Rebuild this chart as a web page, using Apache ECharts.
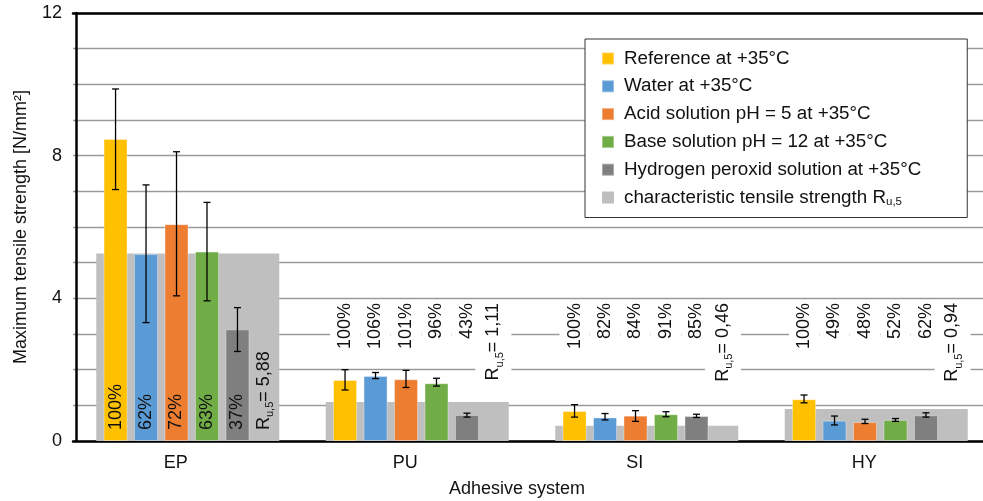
<!DOCTYPE html>
<html>
<head>
<meta charset="utf-8">
<script src="https://cdn.jsdelivr.net/npm/echarts@6/dist/echarts.min.js"></script>
<style>
  html, body { margin: 0; padding: 0; background: #fff; }
  #chart { width: 983px; height: 501px; }
</style>
</head>
<body>
<div id="chart"></div>
<script>
// categories and series
const categories = ['EP', 'PU', 'SI', 'HY'];
const seriesNames = [
  'Reference at +35°C',
  'Water at +35°C',
  'Acid solution pH = 5 at +35°C',
  'Base solution pH = 12 at +35°C',
  'Hydrogen peroxid solution at +35°C'
];
const charName = 'characteristic tensile strength';
const seriesColors = ['#FFC000', '#5B9BD5', '#ED7D31', '#70AD47', '#7F7F7F'];
const charColor = '#BFBFBF';

// mean values [N/mm²]
const refValues = [8.47, 1.71, 0.84, 1.17];
const waterValues = [5.24, 1.82, 0.66, 0.57];
const acidValues = [6.08, 1.73, 0.71, 0.53];
const baseValues = [5.31, 1.62, 0.75, 0.59];
const peroxValues = [3.13, 0.73, 0.70, 0.72];
const charValues = [5.26, 1.09, 0.43, 0.90];

// error bar ends
const refLow = [7.05, 1.43, 0.67, 1.07];
const refHigh = [9.87, 2.00, 1.02, 1.29];
const waterLow = [3.32, 1.75, 0.59, 0.45];
const waterHigh = [7.18, 1.92, 0.77, 0.70];
const acidLow = [4.07, 1.50, 0.55, 0.49];
const acidHigh = [8.11, 1.98, 0.85, 0.61];
const baseLow = [3.93, 1.54, 0.68, 0.55];
const baseHigh = [6.69, 1.76, 0.82, 0.63];
const peroxLow = [2.51, 0.67, 0.66, 0.67];
const peroxHigh = [3.74, 0.78, 0.75, 0.79];

// percentage labels and R_u,5 labels
const refPct = [100, 100, 100, 100];
const waterPct = [62, 106, 82, 49];
const acidPct = [72, 101, 84, 48];
const basePct = [63, 96, 91, 52];
const peroxPct = [37, 43, 85, 62];
const rLabels = ['5,88', '1,11', '0,46', '0,94'];

const values = [refValues, waterValues, acidValues, baseValues, peroxValues];
const lows = [refLow, waterLow, acidLow, baseLow, peroxLow];
const highs = [refHigh, waterHigh, acidHigh, baseHigh, peroxHigh];
const pcts = [refPct, waterPct, acidPct, basePct, peroxPct];

// layout
const GRID_TOP = 13, GRID_BOTTOM = 60, GRID_LEFT = 73, GRID_WIDTH = 918;
const Y_MAX = 12;
const PX_PER_UNIT = (501 - GRID_TOP - GRID_BOTTOM) / Y_MAX;
const BAR_W = 24, BAR_GAP = 0.27, LABEL_SLOT_W = 16;
const STEP = BAR_W * (1 + BAR_GAP);
const TOTAL_W = 5 * STEP + LABEL_SLOT_W;
const TOP_LABEL_VALUE = 3.87;
const FONT = "'Liberation Sans', Arial, sans-serif";
const TEXT_COLOR = '#111';

function barOffset(i) {
  return -TOTAL_W / 2 + i * STEP + BAR_W / 2;
}

function labelFor(v, j, text, rich) {
  if (j === 0) {
    return {
      show: true, formatter: text, rotate: 90,
      position: ['50%', v * PX_PER_UNIT - 11],
      align: 'left', verticalAlign: 'middle',
      fontSize: 18, color: TEXT_COLOR, fontFamily: FONT, rich: rich
    };
  }
  return {
    show: true, formatter: text, rotate: 90,
    position: ['50%', (v - TOP_LABEL_VALUE) * PX_PER_UNIT],
    align: 'right', verticalAlign: 'middle',
    backgroundColor: '#fff', padding: [6, 0, 6, 0],
    fontSize: 18, color: TEXT_COLOR, fontFamily: FONT, rich: rich
  };
}

const rRich = {
  r: { fontSize: 18, color: TEXT_COLOR, fontFamily: FONT, lineHeight: 24 },
  s: { fontSize: 11, color: TEXT_COLOR, fontFamily: FONT, verticalAlign: 'bottom' }
};

const series = [];

series.push({
  name: charName,
  type: 'bar',
  xAxisIndex: 1,
  barWidth: 183,
  z: 1,
  silent: true,
  itemStyle: { color: charColor },
  data: charValues
});

values.forEach((vals, i) => {
  series.push({
    name: seriesNames[i],
    type: 'bar',
    xAxisIndex: 0,
    barWidth: BAR_W,
    barGap: (BAR_GAP * 100) + '%',
    z: 3,
    silent: true,
    itemStyle: { color: seriesColors[i], borderColor: 'rgba(255,255,255,0.35)', borderWidth: 1 },
    data: vals.map((v, j) => ({ value: v, label: labelFor(v, j, pcts[i][j] + '%') }))
  });
});

// empty sixth slot that carries the R_u,5 text
series.push({
  name: 'Ru5 label',
  type: 'bar',
  xAxisIndex: 0,
  barWidth: LABEL_SLOT_W,
  barGap: (BAR_GAP * 100) + '%',
  z: 3,
  silent: true,
  itemStyle: { color: 'rgba(0,0,0,0)' },
  data: charValues.map((v, j) => ({
    value: v,
    label: labelFor(v, j, '{r|R}{s|u,5}{r|= ' + rLabels[j] + '}', rRich)
  }))
});

const errData = [];
lows.forEach((lo, i) => {
  lo.forEach((l, j) => errData.push([j, l, highs[i][j], i]));
});

series.push({
  name: 'error',
  type: 'custom',
  xAxisIndex: 0,
  z: 5,
  silent: true,
  encode: { x: 0, y: [1, 2] },
  data: errData,
  renderItem: function (params, api) {
    const cat = api.value(0);
    const pHi = api.coord([cat, api.value(2)]);
    const pLo = api.coord([cat, api.value(1)]);
    const x = pHi[0] + barOffset(api.value(3));
    const cap = 3.5;
    const style = { stroke: '#000', lineWidth: 1.3, fill: null };
    return {
      type: 'group',
      children: [
        { type: 'line', shape: { x1: x, y1: pHi[1], x2: x, y2: pLo[1] }, style: style },
        { type: 'line', shape: { x1: x - cap, y1: pHi[1], x2: x + cap, y2: pHi[1] }, style: style },
        { type: 'line', shape: { x1: x - cap, y1: pLo[1], x2: x + cap, y2: pLo[1] }, style: style }
      ]
    };
  }
});

const chart = echarts.init(document.getElementById('chart'));
chart.setOption({
  animation: false,
  textStyle: { fontFamily: FONT, color: TEXT_COLOR },
  grid: {
    top: GRID_TOP, bottom: GRID_BOTTOM, left: GRID_LEFT, width: GRID_WIDTH,
    containLabel: false, outerBoundsMode: 'none'
  },
  legend: {
    orient: 'vertical',
    left: 585,
    top: 39,
    padding: [10, 46, 10, 16],
    itemWidth: 12,
    itemHeight: 12,
    itemGap: 8.8,
    icon: 'rect',
    backgroundColor: '#fff',
    borderColor: '#333',
    borderWidth: 1,
    borderRadius: 0,
    data: seriesNames.concat([charName]),
    formatter: function (name) {
      if (name === charName) return '{a|' + name + ' R}{s|u,5}';
      return '{a|' + name + '}';
    },
    textStyle: {
      fontSize: 18.8, color: TEXT_COLOR, fontFamily: FONT, padding: [0, 0, 0, 5],
      rich: {
        a: { fontSize: 18.8, color: TEXT_COLOR, fontFamily: FONT, lineHeight: 20 },
        s: { fontSize: 11.5, color: TEXT_COLOR, fontFamily: FONT, verticalAlign: 'bottom' }
      }
    }
  },
  xAxis: [
    {
      type: 'category',
      data: categories,
      name: 'Adhesive system',
      nameLocation: 'middle',
      nameGap: 39,
      nameTextStyle: { fontSize: 18, color: TEXT_COLOR, padding: [0, 30, 0, 0] },
      axisLine: { lineStyle: { color: '#000', width: 2.5 } },
      axisTick: { show: false },
      axisLabel: { fontSize: 18, color: TEXT_COLOR, margin: 13, padding: [0, 24, 0, 0] }
    },
    {
      type: 'category',
      data: categories,
      position: 'top',
      axisLine: { lineStyle: { color: '#000', width: 2.5 } },
      axisTick: { show: false },
      axisLabel: { show: false }
    }
  ],
  yAxis: {
    type: 'value',
    min: 0,
    max: Y_MAX,
    interval: 1,
    offset: -3,
    name: 'Maximum tensile strength [N/mm²]',
    nameLocation: 'middle',
    nameGap: 46,
    nameTextStyle: { fontSize: 18, color: TEXT_COLOR },
    axisLine: { show: true, lineStyle: { color: '#000', width: 2.5 } },
    axisTick: { show: false },
    axisLabel: {
      fontSize: 18, color: TEXT_COLOR, margin: 14,
      formatter: v => (v % 4 === 0 ? String(v) : '')
    },
    splitLine: { lineStyle: { color: '#9a9a9a', width: 1.3 } }
  },
  series: series
});
</script>
</body>
</html>
